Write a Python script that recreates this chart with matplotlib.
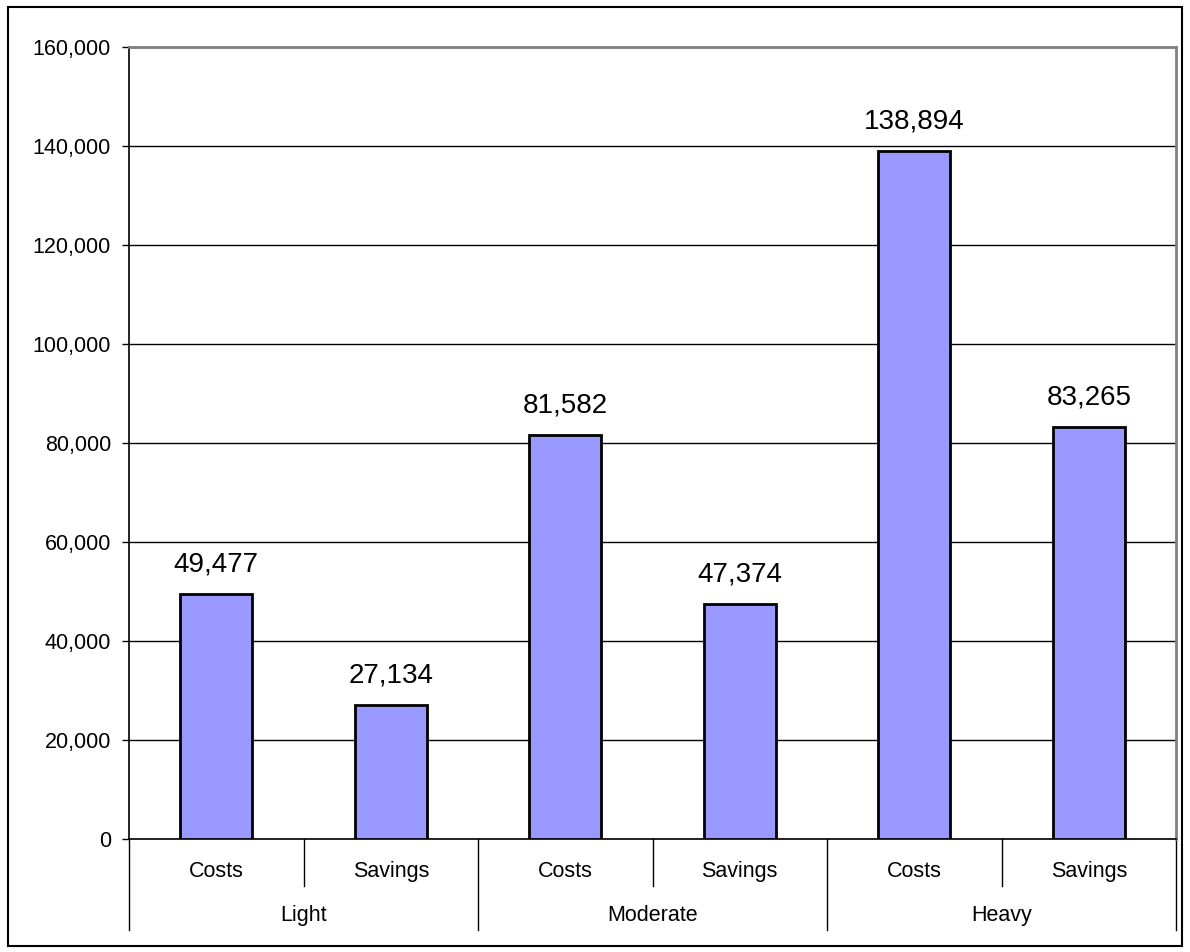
import matplotlib

matplotlib.use("Agg")
import matplotlib.pyplot as plt
import matplotlib.transforms as mtransforms
from matplotlib.patches import Rectangle

plt.rcParams["font.family"] = ["Liberation Sans", "DejaVu Sans"]

groups = ["Light", "Moderate", "Heavy"]
kinds = ["Costs", "Savings"]
values = [49477, 27134, 81582, 47374, 138894, 83265]
y_ticks = [0, 20000, 40000, 60000, 80000, 100000, 120000, 140000, 160000]

bar_color = "#9999FF"

fig = plt.figure(figsize=(11.9, 9.52), dpi=100)
ax = fig.add_axes([129 / 1190, 1 - 839 / 952, 1047 / 1190, 792 / 952])

positions = list(range(len(values)))
ax.bar(positions, values, width=0.41, color=bar_color, edgecolor="black", linewidth=2, zorder=3)

for x, v in zip(positions, values):
    ax.annotate(f"{v:,}", (x, v), xytext=(0, 12), textcoords="offset points",
                ha="center", va="bottom", fontsize=20)

ax.set_xlim(-0.5, len(values) - 0.5)
ax.set_ylim(0, 160000)
ax.set_yticks(y_ticks)
ax.set_yticklabels([f"{t:,}" for t in y_ticks], fontsize=15.5)
ax.yaxis.grid(True, color="black", linewidth=1, zorder=0)
ax.set_axisbelow(True)
ax.tick_params(axis="y", direction="out", length=5, width=1, pad=8)

ax.set_xticks([])
ax.spines["top"].set_color("#808080")
ax.spines["top"].set_linewidth(2)
ax.spines["right"].set_color("#808080")
ax.spines["right"].set_linewidth(2)
ax.spines["left"].set_linewidth(1.2)
ax.spines["bottom"].set_linewidth(1.2)

# two-level category axis below the plot
trans = mtransforms.blended_transform_factory(ax.transData, ax.transAxes)
n = len(kinds)
for i, label in enumerate(kinds * len(groups)):
    ax.text(i, -0.041, label, transform=trans, ha="center", va="center", fontsize=15.5)
for g, name in enumerate(groups):
    ax.text(g * n + (n - 1) / 2, -0.097, name, transform=trans, ha="center", va="center", fontsize=15.5)

for b in range(len(values) + 1):
    edge = b - 0.5
    depth = 0.115 if b % n == 0 else 0.059
    ax.plot([edge, edge], [0, -depth], transform=trans, color="black", linewidth=1, clip_on=False)

# outer frame round the whole chart
fig.patches.append(Rectangle((8 / 1190, 6 / 952), 1174 / 1190, 939 / 952, transform=fig.transFigure,
                             fill=False, edgecolor="black", linewidth=1.5))

fig.savefig("out.png", dpi=100)
plt.close(fig)
